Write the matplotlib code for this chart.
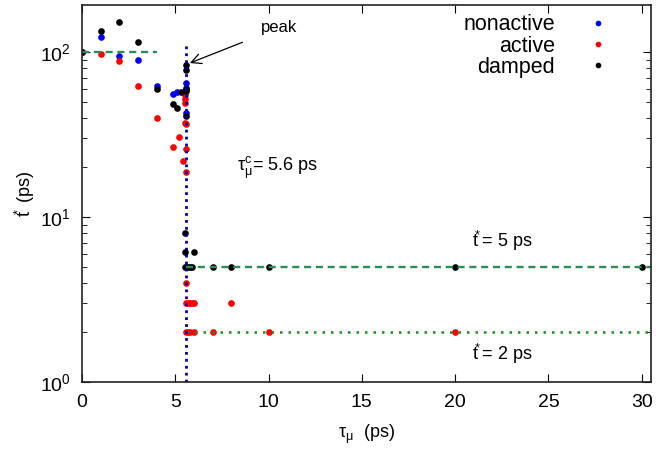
import matplotlib
matplotlib.use("Agg")
import matplotlib.pyplot as plt

plt.rcParams['font.family'] = ['Liberation Sans', 'DejaVu Sans']
plt.rcParams['mathtext.fontset'] = 'custom'
plt.rcParams['mathtext.rm'] = 'Liberation Sans'
plt.rcParams['mathtext.it'] = 'Liberation Sans'
plt.rcParams['mathtext.default'] = 'regular'

# t* vs tau_mu for the three regimes
nonactive_x = [0, 1, 2, 3, 4, 4.9, 5.1, 5.6, 5.6, 5.6]
nonactive_y = [100, 124, 95, 89, 62, 56, 57.5, 64.6, 60.5, 43]

active_x = [0, 1, 2, 3, 4, 4.9, 5.2, 5.4, 5.5, 5.5, 5.5, 5.5, 5.6, 5.6, 5.6,
            5.6, 5.6, 5.7, 5.8, 5.9, 6.0, 8,
            5.6, 5.7, 5.8, 6.0, 7, 10, 20]
active_y = [100, 98, 88, 62, 40, 26.7, 30.5, 21.9, 55, 52, 49, 37.3, 36.5, 25.7, 18.8,
            4, 3, 3, 3, 3, 3, 3,
            2, 2, 2, 2, 2, 2, 2]

damped_x = [0, 1, 2, 3, 4, 4.9, 5.1, 5.3, 5.6, 5.6, 5.6, 5.6, 5.6,
            5.5, 5.5, 6.0, 5.5, 5.6, 5.7, 5.8, 5.9, 7, 8, 10, 20, 30]
damped_y = [100, 135, 153, 115, 60, 48.6, 46, 57.5, 84, 78, 60, 58, 41,
            8, 6.1, 6.1, 5, 5, 5, 5, 5, 5, 5, 5, 5, 5]

tau_c = 5.6
t_top = 100
t_mid = 5
t_low = 2

fig = plt.figure(figsize=(6.56, 4.51), dpi=100)
ax = fig.add_axes([0.125, 0.153, 0.8674, 0.836])

ms = 4.8
ax.plot(nonactive_x, nonactive_y, 'o', color='#0000ff', ms=ms, mec='none', label='nonactive')
ax.plot(active_x, active_y, 'o', color='#ff0000', ms=ms, mec='none', label='active')
ax.plot(damped_x, damped_y, 'o', color='black', ms=ms, mec='none', label='damped')

# guide lines
ax.plot([0, 4], [t_top, t_top], color='#2e8b57', ls=(0, (3, 2)), lw=1.7)
ax.plot([tau_c, 30.5], [t_mid, t_mid], color='#2e8b57', ls=(0, (3, 2)), lw=1.7)
ax.plot([tau_c, 30.5], [t_low, t_low], color='#1e8c1e', ls=(0, (1, 2.4)), lw=1.8)
ax.plot([tau_c, tau_c], [1, 115], color='#0000a0', ls=(0, (1, 1.5)), lw=2)

ax.set_yscale('log')
ax.set_xlim(0, 30.5)
ax.set_ylim(1, 193)
ax.set_xticks([0, 5, 10, 15, 20, 25, 30])
ax.tick_params(which='both', direction='in', top=True, right=True, labelsize=14)
ax.tick_params(axis='x', pad=9)
ax.tick_params(axis='y', pad=8)
ax.tick_params(which='major', length=6)
ax.tick_params(which='minor', length=3.5)
for s in ax.spines.values():
    s.set_linewidth(1.2)
    s.set_color('#222222')

star_t = r'$t^{\!\!\!*}$'
ax.set_xlabel(r'$\tau_{\mu}$  (ps)', fontsize=13, labelpad=8)
ax.set_ylabel(star_t + ' (ps)', fontsize=13, labelpad=2)

ax.annotate('peak', xy=(5.78, 85.8), xytext=(10.55, 140), fontsize=12,
            ha='center', va='center',
            arrowprops=dict(arrowstyle='->', color='black', lw=0.9,
                            shrinkA=12, shrinkB=0, mutation_scale=18))
ax.text(8.3, 19.8, r'$\tau_{\mu}^{c}$= 5.6 ps', fontsize=13, va='center')
ax.text(20.9, 7.2, star_t + '= 5 ps', fontsize=13, va='center')
ax.text(20.9, 1.47, star_t + '= 2 ps', fontsize=13, va='center')

leg = ax.legend(loc='upper right', bbox_to_anchor=(0.956, 0.975), frameon=False,
                markerfirst=False, fontsize=15.5, handletextpad=0.7, handlelength=2.6,
                labelspacing=0.01, borderpad=0, borderaxespad=0, markerscale=0.85)

fig.savefig('out.png', dpi=100)
